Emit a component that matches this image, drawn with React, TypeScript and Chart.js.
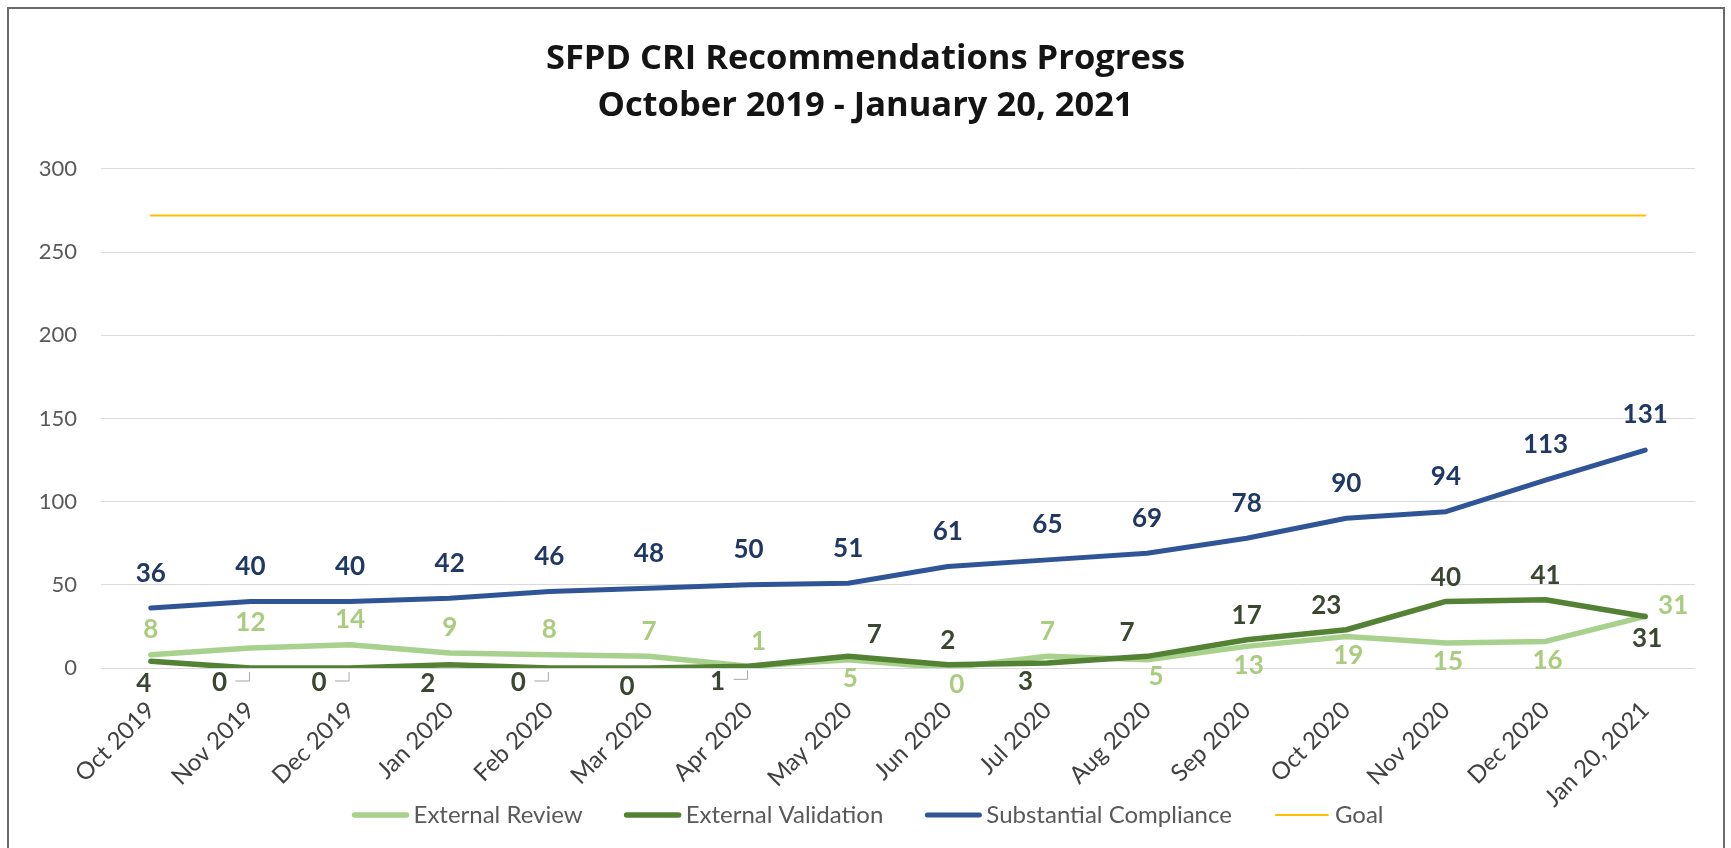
import React, { useEffect, useRef } from 'react';
import { Chart, registerables } from 'chart.js';

Chart.register(...registerables);

const categories = [
  'Oct 2019', 'Nov 2019', 'Dec 2019', 'Jan 2020', 'Feb 2020', 'Mar 2020', 'Apr 2020', 'May 2020',
  'Jun 2020', 'Jul 2020', 'Aug 2020', 'Sep 2020', 'Oct 2020', 'Nov 2020', 'Dec 2020', 'Jan 20, 2021',
];
const externalReview = [8, 12, 14, 9, 8, 7, 1, 5, 0, 7, 5, 13, 19, 15, 16, 31];
const externalValidation = [4, 0, 0, 2, 0, 0, 1, 7, 2, 3, 7, 17, 23, 40, 41, 31];
const substantialCompliance = [36, 40, 40, 42, 46, 48, 50, 51, 61, 65, 69, 78, 90, 94, 113, 131];
const goal = [272, 272, 272, 272, 272, 272, 272, 272, 272, 272, 272, 272, 272, 272, 272, 272];
const seriesNames = ['External Review', 'External Validation', 'Substantial Compliance', 'Goal'];
const titleLines = ['SFPD CRI Recommendations Progress', 'October 2019 - January 20, 2021'];
const yMin = 0;
const yMax = 300;
const yStep = 50;

// label placement codes (style only)
const reviewPlaces = ['a', 'a', 'a', 'a', 'a', 'a', 'ar', 'b', 'br', 'a', 'br', 'b', 'b', 'b', 'b', 'r'];
const validationPlaces = ['bs', 'bL', 'bL', 'bl', 'bL', 'bl', 'bL', 'aR', 'a', 'bl', 'al', 'a', 'al', 'a', 'a', 'b'];
const compliancePlaces = ['a', 'a', 'a', 'a', 'a', 'a', 'a', 'a', 'a', 'a', 'a', 'a', 'a', 'a', 'a', 'a'];

const FONT = 'Lato';

const labelSpecs = [
  { index: 0, places: reviewPlaces, color: '#A9CC7E', above: 25, below: 19 },
  { index: 1, places: validationPlaces, color: '#3A4630', above: 24, below: 22 },
  { index: 2, places: compliancePlaces, color: '#1F3864', above: 35, below: 20 },
];

function placeOffset(code: string, above: number, below: number) {
  switch (code) {
    case 'a': return { dx: 0, dy: -above };
    case 'ar': return { dx: 10, dy: -above };
    case 'aR': return { dx: 26, dy: -above + 2 };
    case 'al': return { dx: -20, dy: -above };
    case 'b': return { dx: 2, dy: below };
    case 'bs': return { dx: -7, dy: below };
    case 'br': return { dx: 9, dy: below - 2 };
    case 'bl': return { dx: -22, dy: below - 3 };
    case 'bL': return { dx: -31, dy: below - 7 };
    case 'r': return { dx: 28, dy: -11 };
    default: return { dx: 0, dy: -above };
  }
}

const pointLabelPlugin = {
  id: 'pointLabels',
  afterDatasetsDraw(chart: any) {
    const ctx = chart.ctx;
    ctx.save();
    ctx.textAlign = 'center';
    ctx.textBaseline = 'middle';
    ctx.font = `bold 26px ${FONT}`;
    labelSpecs.forEach((spec) => {
      const meta = chart.getDatasetMeta(spec.index);
      const values = chart.data.datasets[spec.index].data as number[];
      meta.data.forEach((pt: any, i: number) => {
        const code = spec.places[i];
        const o = placeOffset(code, spec.above, spec.below);
        const lx = pt.x + o.dx;
        const ly = pt.y + o.dy;
        ctx.fillStyle = spec.color;
        ctx.fillText(String(values[i]), lx, ly);
        if (code === 'bL') {
          ctx.strokeStyle = '#A6A6A6';
          ctx.lineWidth = 1;
          ctx.beginPath();
          ctx.moveTo(lx + 16, ly - 2);
          ctx.lineTo(pt.x - 1, ly - 2);
          ctx.lineTo(pt.x - 1, pt.y + 4);
          ctx.stroke();
        }
      });
    });
    ctx.restore();
  },
};

// Excel-like legend: line sample directly followed by its text
const legendPlugin = {
  id: 'excelLegend',
  afterDraw(chart: any) {
    const ctx = chart.ctx;
    const sampleW = 56;
    const gapText = 5;
    const gapItem = 42;
    const cy = 815;
    ctx.save();
    ctx.font = `24px ${FONT}`;
    ctx.textBaseline = 'middle';
    ctx.textAlign = 'left';
    const ds = chart.data.datasets;
    const widths = ds.map((d: any) => sampleW + gapText + ctx.measureText(d.label).width);
    const total = widths.reduce((a: number, b: number) => a + b, 0) + gapItem * (ds.length - 1);
    let x = 868 - total / 2;
    ds.forEach((d: any, i: number) => {
      ctx.strokeStyle = d.borderColor;
      ctx.lineWidth = d.borderWidth;
      ctx.lineCap = 'round';
      ctx.beginPath();
      ctx.moveTo(x + 2, cy);
      ctx.lineTo(x + sampleW - 2, cy);
      ctx.stroke();
      ctx.fillStyle = '#595959';
      ctx.fillText(d.label, x + sampleW + gapText, cy);
      x += widths[i] + gapItem;
    });
    ctx.restore();
  },
};

const framePlugin = {
  id: 'frame',
  beforeDraw(chart: any) {
    const ctx = chart.ctx;
    ctx.save();
    ctx.fillStyle = '#ffffff';
    ctx.fillRect(0, 0, chart.width, chart.height);
    ctx.strokeStyle = '#6B6B6B';
    ctx.lineWidth = 2;
    ctx.strokeRect(8, 8, 1716, 900);
    ctx.restore();
  },
};

export default function App() {
  const ref = useRef<HTMLCanvasElement | null>(null);

  useEffect(() => {
    document.body.style.margin = '0';
    document.body.style.overflow = 'hidden';
    const canvas = ref.current;
    if (!canvas) return;
    const colors = ['#A9D18E', '#548235', '#2F5597', '#FFC000'];
    const widths = [5.5, 5.5, 5, 2];
    const orders = [1, 0, 2, 3];
    const series = [externalReview, externalValidation, substantialCompliance, goal];
    const chart = new Chart(canvas, {
      type: 'line',
      data: {
        labels: categories,
        datasets: series.map((d, i) => ({
          label: seriesNames[i],
          data: d,
          borderColor: colors[i],
          backgroundColor: colors[i],
          borderWidth: widths[i],
          pointRadius: 0,
          pointHoverRadius: 0,
          fill: false,
          tension: 0,
          borderJoinStyle: 'round' as const,
          borderCapStyle: 'round' as const,
          order: orders[i],
        })),
      },
      options: {
        responsive: false,
        animation: false,
        layout: { padding: { left: 36, right: 36, top: 0, bottom: 20 } },
        plugins: {
          tooltip: { enabled: false },
          title: {
            display: true,
            text: titleLines,
            color: '#141414',
            font: { family: 'Open Sans', size: 34.5, weight: 'bold', lineHeight: 1.362 },
            padding: { top: 36, bottom: 39 },
          },
          legend: { display: false },
        },
        scales: {
          x: {
            type: 'category',
            offset: true,
            grid: { display: false, drawTicks: false },
            border: { display: false },
            ticks: {
              color: '#404040',
              font: { family: FONT, size: 24 },
              maxRotation: 45,
              minRotation: 45,
              padding: 28,
              autoSkip: false,
            },
            afterFit: (s: any) => { s.height = 160; },
          },
          y: {
            min: yMin,
            max: yMax,
            grid: { color: '#D9D9D9', lineWidth: 1, drawTicks: false },
            border: { display: false },
            ticks: {
              stepSize: yStep,
              color: '#595959',
              font: { family: FONT, size: 22 },
              padding: 24,
            },
            afterFit: (s: any) => { s.width = 65; },
          },
        },
      },
      plugins: [framePlugin, pointLabelPlugin, legendPlugin],
    });
    return () => chart.destroy();
  }, []);

  return (
    <div style={{ position: 'absolute', left: 0, top: 0, width: 1731, height: 848 }}>
      <canvas ref={ref} width={1731} height={848} />
    </div>
  );
}
